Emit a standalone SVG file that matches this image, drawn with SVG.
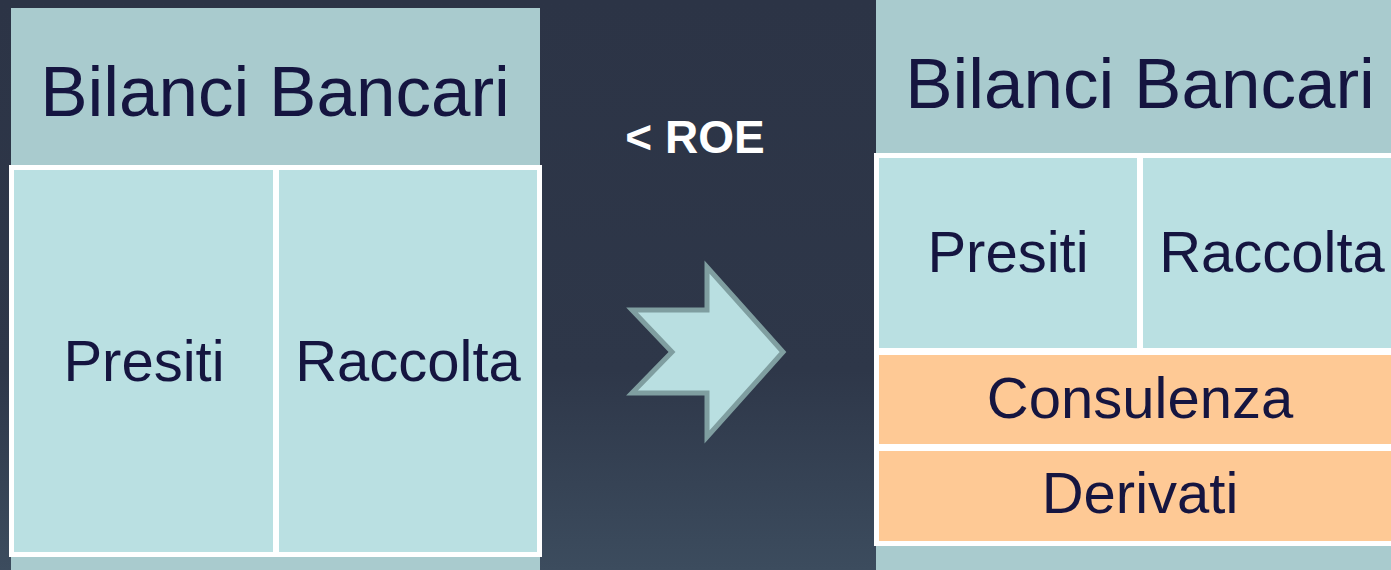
<svg xmlns="http://www.w3.org/2000/svg" width="1391" height="570" viewBox="0 0 1391 570">
<defs>
<linearGradient id="bg" x1="0" y1="0" x2="0" y2="1">
<stop offset="0" stop-color="#2c3446"/>
<stop offset="0.65" stop-color="#2e3749"/>
<stop offset="1" stop-color="#3c4c5e"/>
</linearGradient>
</defs>
<style>
.panel{fill:#a9cbce}
.frame{fill:#ffffff}
.cell{fill:#bae0e2}
.orange{fill:#fec995}
.t{font-family:"Liberation Sans",Arial,sans-serif;fill:#151540;text-anchor:middle}
.h{font-size:71px}
.c{font-size:58px}
.roe{font-family:"Liberation Sans",Arial,sans-serif;font-weight:bold;font-size:46px;fill:#ffffff;text-anchor:middle}
</style>
<rect x="0" y="0" width="1391" height="570" fill="url(#bg)"/>
<g id="left-panel">
<rect class="panel" x="11" y="8" width="529" height="562"/>
<text class="t h" x="275" y="116">Bilanci Bancari</text>
<rect class="frame" x="9" y="165" width="533" height="392"/>
</g>
<g id="left-presiti">
<rect class="cell" x="14" y="170" width="259" height="382"/>
<text class="t c" x="144" y="381">Presiti</text>
</g>
<g id="left-raccolta">
<rect class="cell" x="279" y="170" width="258" height="382"/>
<text class="t c" x="408" y="381">Raccolta</text>
</g>
<g id="roe">
<text class="roe" x="695" y="153">&lt; ROE</text>
</g>
<g id="connectors">
<polygon points="632,310 707,310 707,267 783,352 707,437 707,393 632,393 672,352" fill="#b9dfe1" stroke="#7f9ea0" stroke-width="5" stroke-linejoin="miter"/>
</g>
<g id="right-panel">
<rect class="panel" x="876" y="0" width="515" height="570"/>
<text class="t h" x="1140" y="108">Bilanci Bancari</text>
<rect class="frame" x="874" y="153" width="517" height="393"/>
</g>
<g id="right-presiti">
<rect class="cell" x="879" y="158" width="258" height="190"/>
<text class="t c" x="1008" y="272">Presiti</text>
</g>
<g id="right-raccolta">
<rect class="cell" x="1143" y="158" width="248" height="190"/>
<text class="t c" x="1272" y="272">Raccolta</text>
</g>
<g id="consulenza">
<rect class="orange" x="879" y="355" width="512" height="89"/>
<text class="t c" x="1140" y="418">Consulenza</text>
</g>
<g id="derivati">
<rect class="orange" x="879" y="451" width="512" height="90"/>
<text class="t c" x="1140" y="513">Derivati</text>
</g>
</svg>
